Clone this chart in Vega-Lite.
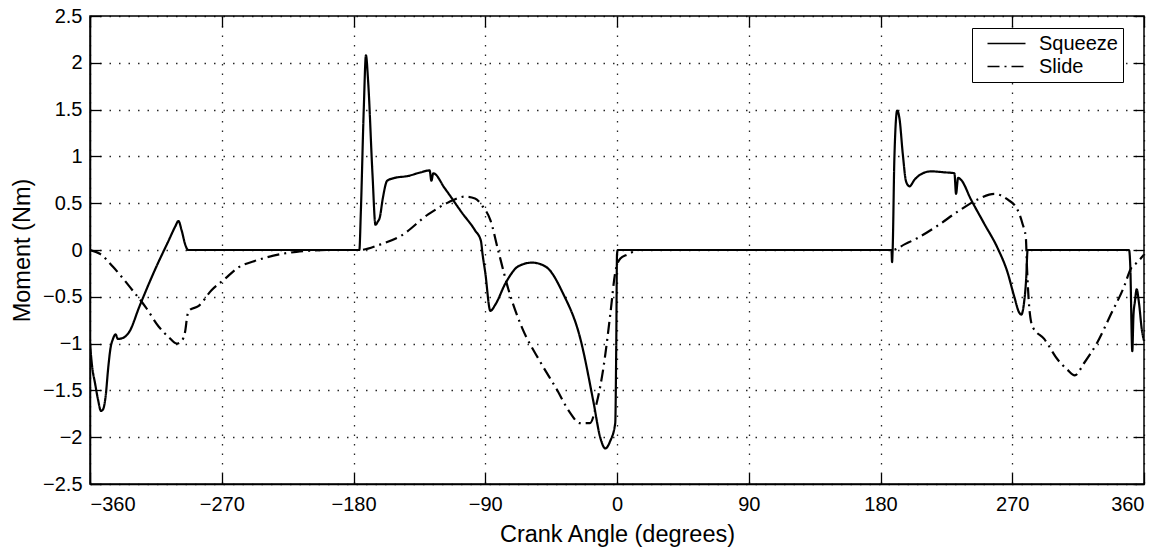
{
  "$schema": "https://vega.github.io/schema/vega-lite/v6.json",
  "autosize": {"type": "none"},
  "width": 1054,
  "height": 468,
  "padding": {"left": 90, "top": 16, "right": 21, "bottom": 64},
  "background": "white",
  "config": {
    "font": "Liberation Sans",
    "view": {"stroke": "black", "strokeWidth": 1.5},
    "axis": {
      "labelFont": "Liberation Sans",
      "titleFont": "Liberation Sans",
      "labelFontSize": 20,
      "titleFontSize": 23.5,
      "titleFontWeight": "normal",
      "labelColor": "black",
      "titleColor": "black",
      "domainColor": "black",
      "domainWidth": 1.5,
      "tickColor": "black",
      "tickWidth": 1.3,
      "gridColor": "black",
      "gridOpacity": 0.85,
      "gridDash": [1.5, 8],
      "gridWidth": 1.3
    }
  },
  "data": {
    "values": [
      {"angle": -360, "moment": -1.0, "series": "Squeeze"},
      {"angle": -358.5, "moment": -1.25, "series": "Squeeze"},
      {"angle": -356.6, "moment": -1.42, "series": "Squeeze"},
      {"angle": -354.5, "moment": -1.6, "series": "Squeeze"},
      {"angle": -352.5, "moment": -1.72, "series": "Squeeze"},
      {"angle": -351, "moment": -1.7, "series": "Squeeze"},
      {"angle": -349.3, "moment": -1.56, "series": "Squeeze"},
      {"angle": -347.5, "moment": -1.25, "series": "Squeeze"},
      {"angle": -346, "moment": -1.05, "series": "Squeeze"},
      {"angle": -344.3, "moment": -0.95, "series": "Squeeze"},
      {"angle": -342.5, "moment": -0.9, "series": "Squeeze"},
      {"angle": -341, "moment": -0.95, "series": "Squeeze"},
      {"angle": -337.6, "moment": -0.94, "series": "Squeeze"},
      {"angle": -333, "moment": -0.87, "series": "Squeeze"},
      {"angle": -326.4, "moment": -0.61, "series": "Squeeze"},
      {"angle": -315.3, "moment": -0.2, "series": "Squeeze"},
      {"angle": -306.3, "moment": 0.1, "series": "Squeeze"},
      {"angle": -301.8, "moment": 0.25, "series": "Squeeze"},
      {"angle": -299.6, "moment": 0.31, "series": "Squeeze"},
      {"angle": -297.4, "moment": 0.21, "series": "Squeeze"},
      {"angle": -295, "moment": 0.06, "series": "Squeeze"},
      {"angle": -292.9, "moment": 0.0, "series": "Squeeze"},
      {"angle": -176, "moment": 0.0, "series": "Squeeze"},
      {"angle": -175, "moment": 0.4, "series": "Squeeze"},
      {"angle": -173, "moment": 1.5, "series": "Squeeze"},
      {"angle": -171.5, "moment": 2.08, "series": "Squeeze"},
      {"angle": -170, "moment": 1.8, "series": "Squeeze"},
      {"angle": -167, "moment": 0.8, "series": "Squeeze"},
      {"angle": -165, "moment": 0.27, "series": "Squeeze"},
      {"angle": -163.5, "moment": 0.3, "series": "Squeeze"},
      {"angle": -162, "moment": 0.35, "series": "Squeeze"},
      {"angle": -160, "moment": 0.55, "series": "Squeeze"},
      {"angle": -157, "moment": 0.74, "series": "Squeeze"},
      {"angle": -152, "moment": 0.77, "series": "Squeeze"},
      {"angle": -143, "moment": 0.79, "series": "Squeeze"},
      {"angle": -134, "moment": 0.83, "series": "Squeeze"},
      {"angle": -128, "moment": 0.85, "series": "Squeeze"},
      {"angle": -126.8, "moment": 0.74, "series": "Squeeze"},
      {"angle": -125.5, "moment": 0.82, "series": "Squeeze"},
      {"angle": -117.7, "moment": 0.66, "series": "Squeeze"},
      {"angle": -106, "moment": 0.4, "series": "Squeeze"},
      {"angle": -97, "moment": 0.21, "series": "Squeeze"},
      {"angle": -93, "moment": 0.1, "series": "Squeeze"},
      {"angle": -91.8, "moment": -0.05, "series": "Squeeze"},
      {"angle": -90, "moment": -0.24, "series": "Squeeze"},
      {"angle": -86.5, "moment": -0.65, "series": "Squeeze"},
      {"angle": -83, "moment": -0.58, "series": "Squeeze"},
      {"angle": -76, "moment": -0.35, "series": "Squeeze"},
      {"angle": -67, "moment": -0.17, "series": "Squeeze"},
      {"angle": -58, "moment": -0.135, "series": "Squeeze"},
      {"angle": -48.5, "moment": -0.18, "series": "Squeeze"},
      {"angle": -37, "moment": -0.46, "series": "Squeeze"},
      {"angle": -25, "moment": -0.95, "series": "Squeeze"},
      {"angle": -16, "moment": -1.63, "series": "Squeeze"},
      {"angle": -11.5, "moment": -2.0, "series": "Squeeze"},
      {"angle": -8, "moment": -2.12, "series": "Squeeze"},
      {"angle": -4.6, "moment": -2.04, "series": "Squeeze"},
      {"angle": -1.2, "moment": -1.85, "series": "Squeeze"},
      {"angle": -0.5, "moment": -1.0, "series": "Squeeze"},
      {"angle": 0, "moment": -0.05, "series": "Squeeze"},
      {"angle": 0.5, "moment": 0.0, "series": "Squeeze"},
      {"angle": 187.5, "moment": 0.0, "series": "Squeeze"},
      {"angle": 187.9, "moment": -0.13, "series": "Squeeze"},
      {"angle": 188.3, "moment": 0.0, "series": "Squeeze"},
      {"angle": 189.5, "moment": 0.99, "series": "Squeeze"},
      {"angle": 191.4, "moment": 1.49, "series": "Squeeze"},
      {"angle": 193, "moment": 1.4, "series": "Squeeze"},
      {"angle": 195.2, "moment": 1.03, "series": "Squeeze"},
      {"angle": 197.5, "moment": 0.73, "series": "Squeeze"},
      {"angle": 199.8, "moment": 0.68, "series": "Squeeze"},
      {"angle": 203.2, "moment": 0.75, "series": "Squeeze"},
      {"angle": 207.7, "moment": 0.81, "series": "Squeeze"},
      {"angle": 214.5, "moment": 0.84, "series": "Squeeze"},
      {"angle": 223.6, "moment": 0.83, "series": "Squeeze"},
      {"angle": 230.5, "moment": 0.82, "series": "Squeeze"},
      {"angle": 231.6, "moment": 0.6, "series": "Squeeze"},
      {"angle": 233, "moment": 0.77, "series": "Squeeze"},
      {"angle": 235, "moment": 0.75, "series": "Squeeze"},
      {"angle": 241.8, "moment": 0.54, "series": "Squeeze"},
      {"angle": 250.9, "moment": 0.28, "series": "Squeeze"},
      {"angle": 260, "moment": 0.02, "series": "Squeeze"},
      {"angle": 266.8, "moment": -0.24, "series": "Squeeze"},
      {"angle": 271.4, "moment": -0.5, "series": "Squeeze"},
      {"angle": 274.8, "moment": -0.67, "series": "Squeeze"},
      {"angle": 276.2, "moment": -0.69, "series": "Squeeze"},
      {"angle": 278, "moment": -0.57, "series": "Squeeze"},
      {"angle": 279.5, "moment": -0.31, "series": "Squeeze"},
      {"angle": 280.5, "moment": 0.0, "series": "Squeeze"},
      {"angle": 349.8, "moment": 0.0, "series": "Squeeze"},
      {"angle": 350.6, "moment": -0.16, "series": "Squeeze"},
      {"angle": 352, "moment": -1.08, "series": "Squeeze"},
      {"angle": 352.8, "moment": -0.7, "series": "Squeeze"},
      {"angle": 353.8, "moment": -0.55, "series": "Squeeze"},
      {"angle": 355, "moment": -0.42, "series": "Squeeze"},
      {"angle": 356.6, "moment": -0.57, "series": "Squeeze"},
      {"angle": 358.5, "moment": -0.85, "series": "Squeeze"},
      {"angle": 360, "moment": -0.97, "series": "Squeeze"},

      {"angle": -360, "moment": 0.0, "series": "Slide"},
      {"angle": -356, "moment": -0.02, "series": "Slide"},
      {"angle": -353.3, "moment": -0.04, "series": "Slide"},
      {"angle": -344.3, "moment": -0.18, "series": "Slide"},
      {"angle": -331, "moment": -0.43, "series": "Slide"},
      {"angle": -322, "moment": -0.61, "series": "Slide"},
      {"angle": -313, "moment": -0.82, "series": "Slide"},
      {"angle": -306.3, "moment": -0.93, "series": "Slide"},
      {"angle": -300.7, "moment": -1.0, "series": "Slide"},
      {"angle": -297.4, "moment": -0.97, "series": "Slide"},
      {"angle": -295, "moment": -0.87, "series": "Slide"},
      {"angle": -293.5, "moment": -0.7, "series": "Slide"},
      {"angle": -291.8, "moment": -0.64, "series": "Slide"},
      {"angle": -286, "moment": -0.6, "series": "Slide"},
      {"angle": -277, "moment": -0.43, "series": "Slide"},
      {"angle": -268, "moment": -0.31, "series": "Slide"},
      {"angle": -259, "moment": -0.19, "series": "Slide"},
      {"angle": -246, "moment": -0.11, "series": "Slide"},
      {"angle": -230, "moment": -0.045, "series": "Slide"},
      {"angle": -219, "moment": -0.02, "series": "Slide"},
      {"angle": -197, "moment": 0.0, "series": "Slide"},
      {"angle": -176, "moment": 0.0, "series": "Slide"},
      {"angle": -161.5, "moment": 0.06, "series": "Slide"},
      {"angle": -147.7, "moment": 0.15, "series": "Slide"},
      {"angle": -129, "moment": 0.38, "series": "Slide"},
      {"angle": -115, "moment": 0.51, "series": "Slide"},
      {"angle": -104, "moment": 0.57, "series": "Slide"},
      {"angle": -97, "moment": 0.55, "series": "Slide"},
      {"angle": -92, "moment": 0.47, "series": "Slide"},
      {"angle": -86.5, "moment": 0.32, "series": "Slide"},
      {"angle": -81, "moment": -0.015, "series": "Slide"},
      {"angle": -74, "moment": -0.43, "series": "Slide"},
      {"angle": -64.6, "moment": -0.84, "series": "Slide"},
      {"angle": -53, "moment": -1.18, "series": "Slide"},
      {"angle": -41.5, "moment": -1.48, "series": "Slide"},
      {"angle": -32, "moment": -1.74, "series": "Slide"},
      {"angle": -25.4, "moment": -1.85, "series": "Slide"},
      {"angle": -18.5, "moment": -1.85, "series": "Slide"},
      {"angle": -13.8, "moment": -1.63, "series": "Slide"},
      {"angle": -9.2, "moment": -1.25, "series": "Slide"},
      {"angle": -4.6, "moment": -0.69, "series": "Slide"},
      {"angle": -1.2, "moment": -0.24, "series": "Slide"},
      {"angle": 2.3, "moment": -0.09, "series": "Slide"},
      {"angle": 7, "moment": -0.05, "series": "Slide"},
      {"angle": 11.5, "moment": -0.015, "series": "Slide"},
      {"angle": 15, "moment": 0.0, "series": "Slide"},
      {"angle": 188.4, "moment": 0.0, "series": "Slide"},
      {"angle": 196.4, "moment": 0.06, "series": "Slide"},
      {"angle": 205.5, "moment": 0.13, "series": "Slide"},
      {"angle": 219, "moment": 0.26, "series": "Slide"},
      {"angle": 232.7, "moment": 0.41, "series": "Slide"},
      {"angle": 246.4, "moment": 0.54, "series": "Slide"},
      {"angle": 257.7, "moment": 0.6, "series": "Slide"},
      {"angle": 266.8, "moment": 0.54, "series": "Slide"},
      {"angle": 273.6, "moment": 0.43, "series": "Slide"},
      {"angle": 277, "moment": 0.28, "series": "Slide"},
      {"angle": 279.3, "moment": 0.13, "series": "Slide"},
      {"angle": 280, "moment": -0.16, "series": "Slide"},
      {"angle": 281.6, "moment": -0.61, "series": "Slide"},
      {"angle": 283.9, "moment": -0.82, "series": "Slide"},
      {"angle": 291.8, "moment": -0.95, "series": "Slide"},
      {"angle": 301, "moment": -1.17, "series": "Slide"},
      {"angle": 307.7, "moment": -1.28, "series": "Slide"},
      {"angle": 312.7, "moment": -1.34, "series": "Slide"},
      {"angle": 319, "moment": -1.21, "series": "Slide"},
      {"angle": 328, "moment": -0.99, "series": "Slide"},
      {"angle": 337.3, "moment": -0.69, "series": "Slide"},
      {"angle": 346.4, "moment": -0.39, "series": "Slide"},
      {"angle": 351, "moment": -0.2, "series": "Slide"},
      {"angle": 355.5, "moment": -0.13, "series": "Slide"},
      {"angle": 360, "moment": -0.05, "series": "Slide"}
    ]
  },
  "layer": [
    {
      "mark": {"type": "line", "color": "black", "strokeWidth": 2.2, "clip": true, "interpolate": "monotone"},
      "encoding": {
        "x": {
          "field": "angle", "type": "quantitative",
          "scale": {"domain": [-360, 360], "nice": false, "zero": false},
          "axis": {
            "title": "Crank Angle (degrees)",
            "values": [-360, -270, -180, -90, 0, 90, 180, 270, 360],
            "format": "d",
            "tickSize": -11,
            "labelPadding": 21,
            "titlePadding": 8,
            "grid": true
          }
        },
        "y": {
          "field": "moment", "type": "quantitative",
          "scale": {"domain": [-2.5, 2.5], "nice": false, "zero": false},
          "axis": {
            "title": "Moment (Nm)",
            "values": [-2.5, -2, -1.5, -1, -0.5, 0, 0.5, 1, 1.5, 2, 2.5],
            "format": "~g",
            "tickSize": -11,
            "labelPadding": 19,
            "titlePadding": 8,
            "grid": true
          }
        },
        "strokeDash": {
          "field": "series", "type": "nominal",
          "scale": {"domain": ["Squeeze", "Slide"], "range": [[1, 0], [12, 5, 2, 5]]},
          "legend": {
            "title": null,
            "orient": "none",
            "legendX": 882,
            "legendY": 12,
            "strokeColor": "black",
            "fillColor": "white",
            "padding": 5,
            "symbolType": "M0,0H4",
            "symbolSize": 361,
            "symbolStrokeColor": "black",
            "symbolStrokeWidth": 1.5,
            "labelFont": "Liberation Sans",
            "labelFontSize": 20,
            "labelColor": "black",
            "labelOffset": 41,
            "labelLimit": 200,
            "rowPadding": 2
          }
        }
      }
    },
    {
      "mark": {"type": "rule", "opacity": 0},
      "encoding": {
        "x": {
          "field": "angle", "type": "quantitative",
          "axis": {
            "orient": "top", "title": null, "labels": false, "grid": false, "domain": false,
            "values": [-360, -270, -180, -90, 0, 90, 180, 270, 360],
            "tickSize": -11
          }
        },
        "y": {
          "field": "moment", "type": "quantitative",
          "axis": {
            "orient": "right", "title": null, "labels": false, "grid": false, "domain": false,
            "values": [-2.5, -2, -1.5, -1, -0.5, 0, 0.5, 1, 1.5, 2, 2.5],
            "tickSize": -11
          }
        }
      }
    }
  ],
  "resolve": {"axis": {"x": "independent", "y": "independent"}}
}
